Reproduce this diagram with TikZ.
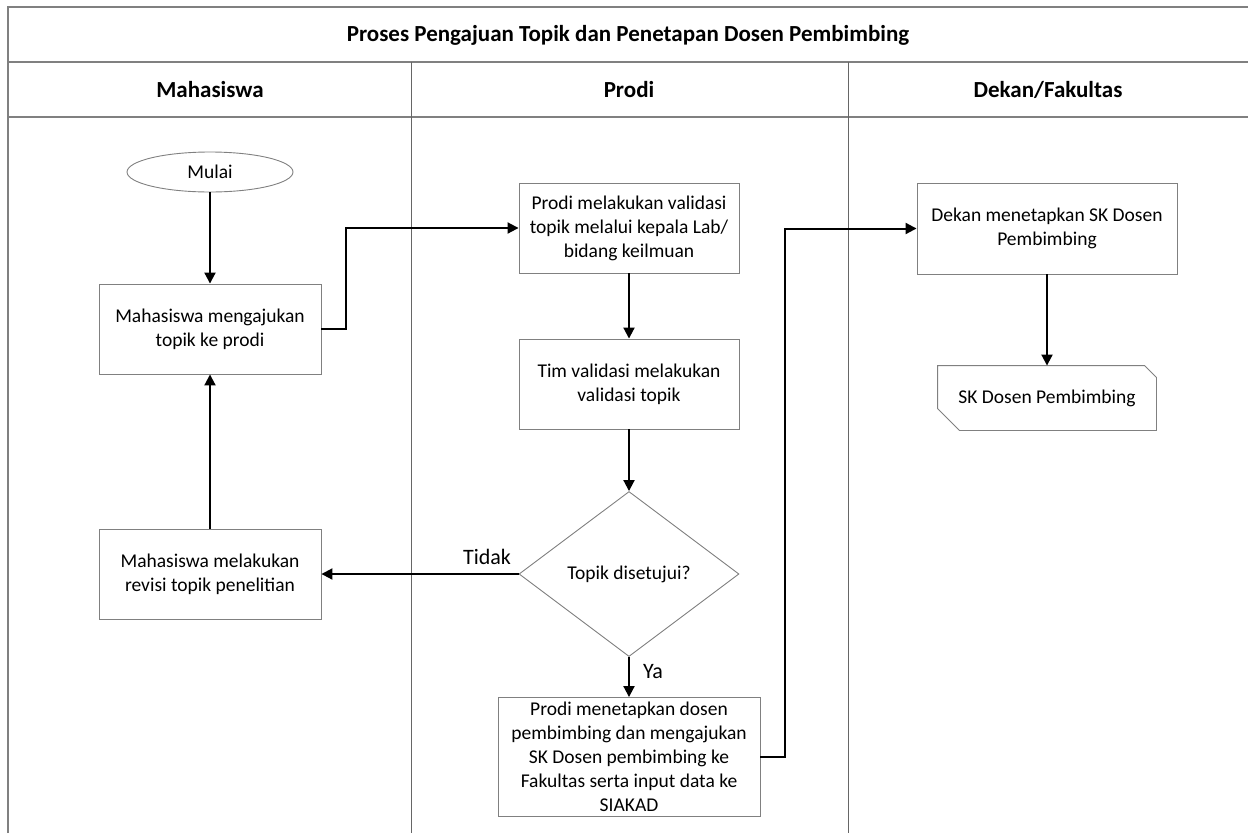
\documentclass[tikz,border=0pt]{standalone}
\usepackage{fontspec}
\setmainfont{Carlito}
\usetikzlibrary{arrows.meta,shapes.geometric}
\tikzset{%
  tipA/.tip={Triangle[length=11pt,width=11pt]},
}
\newcommand\isi{\fontsize{19.5}{24}\selectfont}
\newcommand\judul{\fontsize{23}{28}\selectfont\bfseries}

\begin{document}
\begin{tikzpicture}[x=1pt,y=-1pt,
  kotak/.style={draw=black!50, line width=0.9pt, align=center, font=\isi, inner sep=0pt},
  alur/.style={line width=2pt, -tipA},
  garis/.style={draw=black!60, line width=1pt},
  garisT/.style={draw=black!50, line width=2pt},
  ket/.style={font=\fontsize{22}{26}\selectfont}]
\useasboundingbox (0,0) rectangle (1248,833);
% lanes
\draw[garisT] (8,833) -- (8,7) -- (1248,7);
\draw[garisT] (8,62) -- (1248,62);
\draw[garisT] (8,117) -- (1248,117);
\draw[garis] (411,62) -- (411,833);
\draw[garis] (848,62) -- (848,833);
\node[font=\judul] (judul) at (628,35) {Proses Pengajuan Topik dan Penetapan Dosen Pembimbing};
\node[font=\judul] (mhs) at (210,90) {Mahasiswa};
\node[font=\judul] (prodi) at (629,90) {Prodi};
\node[font=\judul] (dekanlane) at (1048,90) {Dekan/Fakultas};
% mahasiswa
\node[kotak, ellipse, minimum width=166, minimum height=40] (mulai) at (210,172) {Mulai};
\node[kotak, minimum width=222, minimum height=90] (ajukan) at (210,329) {Mahasiswa mengajukan\\topik ke prodi};
\node[kotak, minimum width=222, minimum height=90] (revisi) at (210,574) {Mahasiswa melakukan\\revisi topik penelitian};
% prodi
\node[kotak, minimum width=220, minimum height=90] (validasi) at (629,228) {Prodi melakukan validasi\\topik melalui kepala Lab/\\bidang keilmuan};
\node[kotak, minimum width=220, minimum height=90] (tim) at (629,384) {Tim validasi melakukan\\validasi topik};
\node[kotak, diamond, aspect=1.33, minimum width=220, minimum height=165] (setuju) at (629,574) {Topik disetujui?};
\node[kotak, minimum width=262, minimum height=119] (tetap) at (629,757) {Prodi menetapkan dosen\\pembimbing dan mengajukan\\SK Dosen pembimbing ke\\Fakultas serta input data ke\\SIAKAD};
% dekan
\node[kotak, minimum width=260, minimum height=91] (dekan) at (1047,228.5) {Dekan menetapkan SK Dosen\\Pembimbing};
\node[kotak, draw=none, minimum width=218, minimum height=64] (sk) at (1047,398) {SK Dosen Pembimbing};
\draw[draw=black!50, line width=0.9pt] (sk.north west) -- ([xshift=-12]sk.north east) -- ([yshift=-12]sk.north east)
  -- (sk.south east) -- ([xshift=22]sk.south west) -- ([yshift=22]sk.south west) -- cycle;
% alur
\draw[alur] (mulai) -- (ajukan);
\draw[alur] (ajukan.east) -- ++(25,0) |- (validasi.west);
\draw[alur] (validasi) -- (tim);
\draw[alur] (tim) -- (setuju);
\draw[alur] (setuju.west) -- (revisi.east);
\node[ket] (tidak) at (487,557) {Tidak};
\draw[alur] (revisi) -- (ajukan);
\draw[alur] (setuju.south) -- (tetap.north);
\node[ket] (ya) at (653,672) {Ya};
\draw[alur] (tetap.east) -- ++(25,0) |- (dekan.west);
\draw[alur] (dekan) -- (sk);
\end{tikzpicture}
\end{document}
